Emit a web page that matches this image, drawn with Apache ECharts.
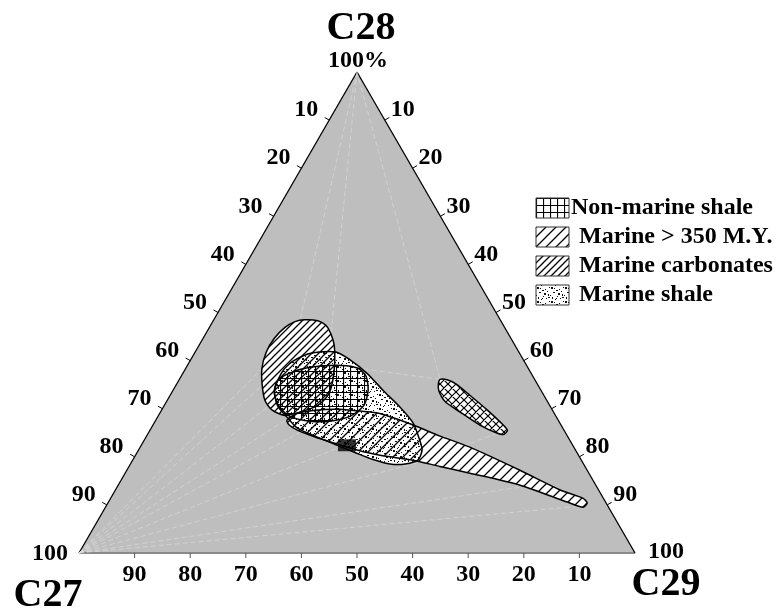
<!DOCTYPE html>
<html><head><meta charset="utf-8">
<script src="https://cdn.jsdelivr.net/npm/echarts@6/dist/echarts.min.js"></script>
<style>html,body{margin:0;padding:0;background:#fff}#c{width:783px;height:614px}</style>
</head><body><div id="c"></div>
<script>
// Ternary points are [C27, C28, C29] in percent
const vertexNames = ['C27', 'C28', 'C29'];
const vertexPoints = [[100, 0, 0], [0, 100, 0], [0, 0, 100]];
const vertexValueLabels = ['100', '100%', '100'];
const tickValues = [10, 20, 30, 40, 50, 60, 70, 80, 90];
const legendNames = ['Non-marine shale', 'Marine > 350 M.Y.', 'Marine carbonates', 'Marine shale'];

const marineCarbonates = [
  [35.2,48.5,16.3],[32.9,48.3,18.8],[31.9,47.3,20.8],[31.9,45.6,22.5],[32.5,43.2,24.3],
  [34.0,40.0,26.0],[36.4,35.9,27.7],[38.8,32.8,28.4],[41.7,30.7,27.6],[45.6,29.3,25.1],
  [48.6,28.6,22.8],[50.4,29.7,19.9],[50.7,31.7,17.6],[49.6,34.9,15.5],[47.9,38.4,13.7],
  [45.5,41.7,12.8],[42.6,44.6,12.8],[39.5,46.9,13.6],[37.1,48.1,14.8]
];
const marineShale = [
  [39.4,40.9,19.7],[37.3,41.6,21.1],[32.9,41.8,25.3],[31.2,40.2,28.6],[29.5,37.3,33.2],
  [28.4,33.8,37.8],[27.1,30.3,42.6],[26.4,27.0,46.6],[27.0,23.4,49.6],[27.6,21.4,51.0],
  [29.4,19.3,51.3],[32.1,18.5,49.4],[34.8,18.5,46.7],[37.5,19.5,43.0],[39.6,20.7,39.7],
  [42.7,22.6,34.7],[45.4,24.3,30.3],[47.7,25.9,26.4],[48.4,28.0,23.6],[49.0,30.5,20.5],
  [47.9,33.8,18.3],[45.0,37.3,17.7],[42.4,39.4,18.2]
];
const marineOver350 = [
  [48.8,27.6,23.6],[46.3,29.0,24.7],[42.7,29.7,27.6],[38.1,29.9,32.0],[34.7,29.5,35.8],
  [31.4,29.0,39.6],[26.6,26.6,46.8],[22.9,24.3,52.8],[18.7,22.0,59.3],[12.1,17.2,70.7],
  [6.9,13.1,80.0],[3.7,11.4,84.9],[3.4,10.4,86.2],[4.6,9.5,85.9],[6.9,10.6,82.5],
  [13.6,14.1,72.3],[21.4,16.6,62.0],[26.1,18.0,55.9],[30.3,19.3,50.4],[35.7,20.3,44.0],
  [39.3,21.4,39.3],[42.6,22.8,34.6],[45.5,24.1,30.4],[47.9,25.5,26.6],[48.9,26.6,24.5]
];
const nonMarineShaleA = [
  [43.7,37.3,19.0],[39.2,38.6,22.2],[33.4,39.0,27.6],[30.6,38.4,31.0],[30.0,36.7,33.3],
  [31.1,33.8,35.1],[33.4,30.7,35.9],[37.1,28.4,34.5],[41.2,27.4,31.4],[44.8,27.4,27.8],
  [47.9,28.4,23.7],[48.8,30.7,20.5],[48.2,33.4,18.4],[46.5,35.7,17.8]
];
const nonMarineShaleB = [
  [17.0,36.1,46.9],[15.8,36.0,48.2],[14.6,35.1,50.3],[13.3,32.8,53.9],[11.7,29.7,58.6],
  [10.4,26.6,63.0],[10.2,25.5,64.3],[11.2,24.7,64.1],[12.3,24.9,62.8],[14.6,26.6,58.8],
  [16.8,29.3,53.9],[18.4,31.5,50.1],[18.4,33.8,47.8],[17.7,35.3,47.0]
];
const markerPoints = [[40.6,22.4,37.0]];
// faint background guide segments [start, end]
const faintStarts = [
  [100,0,0],[100,0,0],[100,0,0],[100,0,0],[100,0,0],[100,0,0],[100,0,0],[100,0,0],[100,0,0],
  [0,100,0],[0,100,0],[0,100,0],[17.0,36.1,46.9],[12.3,24.9,62.8]
];
const faintEnds = [
  [47.0,39.0,14.0],[49.6,34.9,15.5],[50.3,30.7,19.0],[49.1,27.6,23.3],[47.7,25.1,27.2],
  [42.1,22.0,35.9],[29.2,18.9,51.9],[13.8,13.7,72.5],[4.5,9.8,85.7],
  [36.1,48.3,15.6],[33.3,43.2,23.5],[17.0,36.1,46.9],[30.6,38.4,31.0],[29.2,18.9,51.9]
];

function toXY(p) {
  const s = p[0] + p[1] + p[2];
  const b = p[1] / s * 100, c = p[2] / s * 100;
  return [c + b / 2, b];
}

function makePattern(size, draw) {
  const cv = document.createElement('canvas');
  cv.width = size; cv.height = size;
  const g = cv.getContext('2d');
  draw(g, size);
  return { image: cv, repeat: 'repeat' };
}
function hatchPattern(s, lw, both) {
  return makePattern(s, function (g, s) {
    g.strokeStyle = '#000'; g.lineWidth = lw; g.beginPath();
    g.moveTo(-1, s + 1); g.lineTo(s + 1, -1);
    g.moveTo(-1, 1); g.lineTo(1, -1);
    g.moveTo(s - 1, s + 1); g.lineTo(s + 1, s - 1);
    if (both) {
      g.moveTo(-1, -1); g.lineTo(s + 1, s + 1);
      g.moveTo(s - 1, -1); g.lineTo(s + 1, 1);
      g.moveTo(-1, s - 1); g.lineTo(1, s + 1);
    }
    g.stroke();
  });
}
const gridPat = makePattern(7, function (g, s) {
  g.strokeStyle = '#000'; g.lineWidth = 1.2; g.beginPath();
  g.moveTo(0, 0.5); g.lineTo(s, 0.5); g.moveTo(0.5, 0); g.lineTo(0.5, s); g.stroke();
});
const crossPat = hatchPattern(8, 1.2, true);
const sparsePat = hatchPattern(10, 1.3, false);
const densePat = hatchPattern(7, 1.3, false);
const dotPat = makePattern(14, function (g) {
  g.fillStyle = '#111';
  [[1,2],[5,0],[9,4],[3,7],[12,9],[7,11],[13,2],[10,13],[2,12],[6,5],[11,6],[0,10],[8,8],[4,3],[6,13],[12,12]].forEach(function (d, i) {
    g.fillRect(d[0], d[1], i % 3 === 0 ? 2 : 1, i % 4 === 0 ? 2 : 1);
  });
});

const FONT = '"Liberation Serif","Times New Roman",serif';

function polySeries(pts, layer, fill, z) {
  const data = pts.map(toXY);
  return {
    type: 'custom', coordinateSystem: 'cartesian2d', z: z, silent: true, data: data,
    renderItem: function (params, api) {
      if (params.dataIndex !== 0) return null;
      const points = data.map(function (p) { return api.coord(p); });
      let style;
      if (layer === 'white') style = { fill: '#fff', stroke: null };
      else if (layer === 'pattern') style = { fill: fill, stroke: null };
      else style = { fill: null, stroke: '#000', lineWidth: 1.5 };
      return { type: 'polygon', shape: { points: points, smooth: 0.25 }, style: style };
    }
  };
}

const shapes = [
  { pts: marineCarbonates, pat: densePat },
  { pts: marineShale, pat: dotPat },
  { pts: marineOver350, pat: sparsePat },
  { pts: nonMarineShaleA, pat: gridPat },
  { pts: nonMarineShaleB, pat: crossPat }
];

const series = [];
// triangle background
series.push({
  type: 'custom', coordinateSystem: 'cartesian2d', z: 1, silent: true,
  data: vertexPoints.map(toXY),
  renderItem: function (params, api) {
    if (params.dataIndex !== 0) return null;
    const v = vertexPoints.map(function (p) { return api.coord(toXY(p)); });
    return {
      type: 'group', children: [
        { type: 'polygon', shape: { points: v }, style: { fill: '#bebebe', stroke: null } },
        { type: 'line', shape: { x1: v[0][0], y1: v[0][1], x2: v[2][0], y2: v[2][1] }, style: { stroke: '#8a8a8a', lineWidth: 2 } },
        { type: 'line', shape: { x1: v[0][0], y1: v[0][1], x2: v[1][0], y2: v[1][1] }, style: { stroke: '#000', lineWidth: 1.3 } },
        { type: 'line', shape: { x1: v[1][0], y1: v[1][1], x2: v[2][0], y2: v[2][1] }, style: { stroke: '#000', lineWidth: 1.3 } }
      ]
    };
  }
});
// faint guide lines
series.push({
  type: 'custom', coordinateSystem: 'cartesian2d', z: 2, silent: true,
  data: faintStarts.map(toXY),
  renderItem: function (params, api) {
    const i = params.dataIndex;
    const a = api.coord(toXY(faintStarts[i]));
    const b = api.coord(toXY(faintEnds[i]));
    return { type: 'line', shape: { x1: a[0], y1: a[1], x2: b[0], y2: b[1] },
      style: { stroke: 'rgba(235,235,235,0.55)', lineWidth: 0.8, lineDash: [5, 3] } };
  }
});
shapes.forEach(function (s) { series.push(polySeries(s.pts, 'white', null, 3)); });
shapes.forEach(function (s) { series.push(polySeries(s.pts, 'pattern', s.pat, 4)); });
shapes.forEach(function (s) { series.push(polySeries(s.pts, 'outline', null, 5)); });

series.push({
  type: 'scatter', z: 6, silent: true, symbol: 'rect', symbolSize: [18, 12],
  itemStyle: { color: '#000' }, data: markerPoints.map(toXY)
});

// ticks and tick labels
series.push({
  type: 'custom', coordinateSystem: 'cartesian2d', z: 6, silent: true,
  data: tickValues.map(function (v) { return [v, 0]; }),
  renderItem: function (params, api) {
    const v = tickValues[params.dataIndex];
    const bot = api.coord(toXY([v, 0, 100 - v]));
    const lft = api.coord(toXY([v, 100 - v, 0]));
    const rgt = api.coord(toXY([0, 100 - v, v]));
    const tf = 'bold 24px ' + FONT;
    return {
      type: 'group', children: [
        { type: 'line', shape: { x1: bot[0], y1: bot[1], x2: bot[0], y2: bot[1] + 5 }, style: { stroke: '#555', lineWidth: 1 } },
        { type: 'line', shape: { x1: lft[0], y1: lft[1], x2: lft[0] - 4.5, y2: lft[1] - 2.6 }, style: { stroke: '#000', lineWidth: 1 } },
        { type: 'line', shape: { x1: rgt[0], y1: rgt[1], x2: rgt[0] + 4.5, y2: rgt[1] - 2.6 }, style: { stroke: '#000', lineWidth: 1 } },
        { type: 'text', style: { text: String(v), x: bot[0], y: bot[1] + 22, font: tf, fill: '#000', align: 'center', verticalAlign: 'middle' } },
        { type: 'text', style: { text: String(v), x: lft[0] - 11, y: lft[1] - 10, font: tf, fill: '#000', align: 'right', verticalAlign: 'middle' } },
        { type: 'text', style: { text: String(v), x: rgt[0] + 6, y: rgt[1] - 10, font: tf, fill: '#000', align: 'left', verticalAlign: 'middle' } }
      ]
    };
  }
});

// vertex labels
const vOff = [
  { vx: -11, vy: 1, va: 'right', nx: -31, ny: 43 },
  { vx: 1, vy: -11, va: 'center', nx: 4, ny: -43 },
  { vx: 13, vy: -1, va: 'left', nx: 31, ny: 32 }
];
series.push({
  type: 'custom', coordinateSystem: 'cartesian2d', z: 6, silent: true,
  data: vertexPoints.map(toXY),
  renderItem: function (params, api) {
    const i = params.dataIndex;
    const p = api.coord(toXY(vertexPoints[i]));
    const o = vOff[i];
    return {
      type: 'group', children: [
        { type: 'text', style: { text: vertexValueLabels[i], x: p[0] + o.vx, y: p[1] + o.vy, font: 'bold 24px ' + FONT, fill: '#000', align: o.va, verticalAlign: 'middle' } },
        { type: 'text', style: { text: vertexNames[i], x: p[0] + o.nx, y: p[1] + o.ny, font: 'bold 40px ' + FONT, fill: '#000', align: 'center', verticalAlign: 'middle' } }
      ]
    };
  }
});

const legendPats = [gridPat, sparsePat, densePat, dotPat];
const graphic = [];
legendNames.forEach(function (n, i) {
  const y = 198 + i * 29;
  graphic.push({ type: 'rect', x: 536, y: y, shape: { width: 33, height: 20 }, style: { fill: '#fff', stroke: null }, z: 10 });
  graphic.push({ type: 'rect', x: 536, y: y, shape: { width: 33, height: 20 }, style: { fill: legendPats[i], stroke: '#333', lineWidth: 1 }, z: 11 });
  graphic.push({ type: 'text', x: i === 0 ? 571 : 579, y: y + 10, style: { text: n, font: 'bold 24px ' + FONT, fill: '#000', verticalAlign: 'middle' }, z: 11 });
});

const chart = echarts.init(document.getElementById('c'), null, { renderer: 'canvas' });
chart.setOption({
  animation: false,
  backgroundColor: '#fff',
  grid: { left: 79, top: 72, width: 556, height: 481 },
  xAxis: { type: 'value', min: 0, max: 100, show: false },
  yAxis: { type: 'value', min: 0, max: 100, show: false },
  graphic: graphic,
  series: series
});
</script></body></html>
